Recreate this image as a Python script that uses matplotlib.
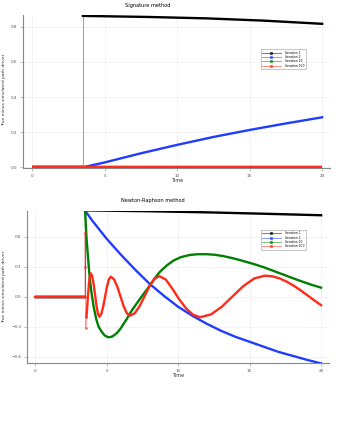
import numpy as np
import matplotlib
matplotlib.use("Agg")
import matplotlib.pyplot as plt

plt.rcParams['font.family'] = ['DejaVu Sans']

labels = ['Iteration 1', 'Iteration 2', 'Iteration 10', 'Iteration 100']
colors = ['black', '#1f3cff', 'green', '#ff2a1a']
xticks = [0, 5, 10, 15, 20]

# ---- Signature method ----
sig_black_t = [0, 3.5, 3.5, 8, 12, 16, 20]
sig_black_v = [0, 0, 0.862, 0.856, 0.848, 0.835, 0.817]
sig_blue_t = [0, 3.5, 5, 7.5, 10, 12.5, 15, 17.5, 20]
sig_blue_v = [0, 0, 0.028, 0.08, 0.128, 0.173, 0.213, 0.25, 0.285]
sig_green_t = [0, 20]
sig_green_v = [0, 0]
sig_red_t = [0, 20]
sig_red_v = [0, 0]

# ---- Newton-Raphson method ----
nr_black_t = [0, 3.5, 3.5, 8, 12, 16, 20]
nr_black_v = [0, 0, 0.862, 0.853, 0.842, 0.828, 0.813]
nr_blue_t = [0, 3.5, 3.5, 3.75, 4, 4.5, 5, 5.5, 6, 6.5, 7, 7.5, 8, 9, 10, 11, 12,
             13, 14, 15, 16, 17, 18, 19, 20]
nr_blue_v = [0, 0, 0.86, 0.81, 0.76, 0.67, 0.58, 0.50, 0.42, 0.345, 0.27, 0.2,
             0.13, 0.01, -0.10, -0.19, -0.27, -0.34, -0.40, -0.45, -0.50, -0.55,
             -0.59, -0.63, -0.666]
nr_green_t = [0, 3.5, 3.5, 3.55, 3.6, 3.67, 3.73, 3.8, 3.87, 3.95, 4.08, 4.2, 4.3,
              4.45, 4.66, 4.88, 5.13, 5.4, 5.7, 5.95, 6.2, 6.45, 6.64, 6.9, 7.2,
              7.5, 7.97, 8.35, 8.74, 9.2, 9.67, 10.2, 10.84, 11.4, 12.0, 12.6,
              13.17, 13.8, 14.34, 15.2, 15.97, 17.0, 18.3, 19.2, 20]
nr_green_v = [0, 0, 0.86, 0.72, 0.59, 0.46, 0.35, 0.23, 0.13, 0.04, -0.083, -0.17,
              -0.233, -0.3, -0.35, -0.388, -0.406, -0.398, -0.366, -0.325, -0.27,
              -0.215, -0.166, -0.11, -0.05, 0.01, 0.1, 0.18, 0.25, 0.31, 0.36,
              0.395, 0.417, 0.424, 0.424, 0.418, 0.405, 0.385, 0.365, 0.33, 0.295,
              0.24, 0.17, 0.125, 0.09]
nr_red_t = [0, 3.5, 3.5, 3.52, 3.55, 3.6, 3.7, 3.75, 3.8, 3.85, 3.9, 4.0, 4.1, 4.2,
            4.3, 4.4, 4.5, 4.633, 4.767, 4.9, 5.033, 5.167, 5.3, 5.523, 5.747,
            5.97, 6.193, 6.417, 6.64, 6.983, 7.327, 7.67, 8.013, 8.357, 8.7, 9.15,
            9.6, 10.05, 10.55, 11.05, 11.54, 12.297, 13.053, 13.81, 14.567,
            15.323, 16.08, 16.6, 17.11, 17.6, 18.14, 18.65, 19.17, 19.6, 20]
nr_red_v = [0, 0, 0.64, 0.3, -0.31, -0.2, 0.0, 0.09, 0.17, 0.215, 0.234, 0.205,
            0.125, 0.017, -0.09, -0.17, -0.2, -0.173, -0.1, 0.0, 0.1, 0.173, 0.2,
            0.174, 0.103, 0.005, -0.093, -0.164, -0.19, -0.164, -0.091, 0.008,
            0.106, 0.179, 0.205, 0.17, 0.08, -0.02, -0.115, -0.18, -0.205, -0.177,
            -0.101, 0.003, 0.106, 0.182, 0.21, 0.203, 0.182, 0.15, 0.105, 0.055,
            0.0, -0.045, -0.085]

LW = 1.7

fig = plt.figure(figsize=(3.4, 4.47), dpi=100)
ax1 = fig.add_axes([0.068, 0.624, 0.903, 0.342])
ax2 = fig.add_axes([0.0785, 0.187, 0.8895, 0.342])


def draw(ax, t, v, c, lab, jump):
    # flat part, thin jump, then the curve
    ax.plot(t[:2], v[:2], color=c, lw=LW, solid_capstyle='butt')
    if jump:
        ax.plot(t[1:3], v[1:3], color=c, lw=0.8, alpha=0.35)
        ax.plot(t[2:], v[2:], color=c, lw=LW)
    else:
        ax.plot(t[1:], v[1:], color=c, lw=LW)
    ax.plot([], [], color=c, lw=0.6, alpha=0.6, marker='s', ms=1.3, label=lab)


draw(ax1, sig_black_t, sig_black_v, colors[0], labels[0], True)
draw(ax1, sig_blue_t, sig_blue_v, colors[1], labels[1], False)
draw(ax1, sig_green_t, sig_green_v, colors[2], labels[2], False)
draw(ax1, sig_red_t, sig_red_v, colors[3], labels[3], False)

draw(ax2, nr_black_t, nr_black_v, colors[0], labels[0], True)
draw(ax2, nr_blue_t, nr_blue_v, colors[1], labels[1], True)
draw(ax2, nr_green_t, nr_green_v, colors[2], labels[2], True)
# red: thin dotted jump region, then curve
ax2.plot(nr_red_t[:2], nr_red_v[:2], color=colors[3], lw=LW)
ax2.plot(nr_red_t[1:6], nr_red_v[1:6], color=colors[3], lw=0.6, alpha=0.5,
         marker='o', ms=1.2)
ax2.plot(nr_red_t[5:], nr_red_v[5:], color=colors[3], lw=LW)
ax2.plot([], [], color=colors[3], lw=0.6, alpha=0.6, marker='s', ms=1.3, label=labels[3])

ax1.set_xlim(-0.62, 20.55)
ax1.set_ylim(-0.004, 0.866)
ax1.set_yticks([0.0, 0.2, 0.4, 0.6, 0.8])
ax2.set_xlim(-0.58, 20.56)
ax2.set_ylim(-0.666, 0.86)
ax2.set_yticks([0.6, 0.3, 0.0, -0.3, -0.6])

for ax, anchor in ((ax1, (0.922, 0.778)), (ax2, (0.924, 0.874))):
    ax.set_xticks(xticks)
    for s in ('top', 'right'):
        ax.spines[s].set_visible(False)
    for s in ('left', 'bottom'):
        ax.spines[s].set_color('#888888')
        ax.spines[s].set_linewidth(0.8)
    ax.grid(True, color='#eeeeee', lw=0.5)
    ax.set_axisbelow(True)
    ax.tick_params(labelsize=3, length=2, width=0.4, color='#888888',
                   labelcolor='#555555', pad=2)
    leg = ax.legend(loc='upper right', bbox_to_anchor=anchor, borderaxespad=0,
                    fontsize=2.2, frameon=True, fancybox=False, edgecolor='#aaaaaa',
                    handlelength=6, borderpad=0.5, labelspacing=0.12,
                    handletextpad=1.5)
    leg.get_frame().set_linewidth(0.6)

fig.text(148 / 340, 1 - 6 / 447, 'Signature method', fontsize=3.6, ha='center', va='center')
fig.text(152.7 / 340, 1 - 200.7 / 447, 'Newton-Raphson method', fontsize=3.6, ha='center', va='center')
fig.text(176.7 / 340, 1 - 181 / 447, 'Time', fontsize=3.5, ha='center', va='center', color='#333333')
fig.text(178 / 340, 1 - 375.7 / 447, 'Time', fontsize=3.5, ha='center', va='center', color='#333333')
fig.text(4.3 / 340, 1 - 90 / 447, 'True minus simulated path driver', fontsize=3.2,
         rotation=90, ha='center', va='center', color='#333333')
fig.text(4 / 340, 1 - 286.7 / 447, 'True minus simulated path driver', fontsize=3.2,
         rotation=90, ha='center', va='center', color='#333333')

fig.savefig('out.png', dpi=100)
